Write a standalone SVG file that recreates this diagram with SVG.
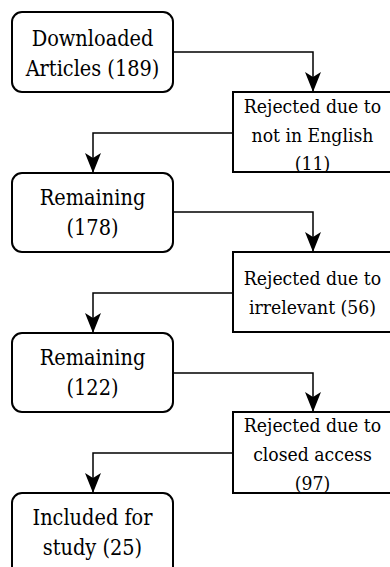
<svg xmlns="http://www.w3.org/2000/svg" width="390" height="567" viewBox="0 0 390 567">
<defs>
<style>
.box{fill:#fff;stroke:#000;stroke-width:2}
.edge{fill:none;stroke:#000;stroke-width:1.5}
.m{font-size:21.5px}
.r{font-size:19.2px}
</style>
<marker id="arr" viewBox="0 0 20 16" refX="19" refY="8" markerWidth="20" markerHeight="16" markerUnits="userSpaceOnUse" orient="auto">
<path d="M0,0 L20,8 L0,16 L5,8 Z" fill="#000"/>
</marker>
</defs>
<rect width="390" height="567" fill="#fff"/>
<g id="connectors">
<path class="edge" d="M173,52 H313 V91" marker-end="url(#arr)"/>
<path class="edge" d="M233,133 H93 V172" marker-end="url(#arr)"/>
<path class="edge" d="M173,212 H313 V251" marker-end="url(#arr)"/>
<path class="edge" d="M233,293 H93 V332" marker-end="url(#arr)"/>
<path class="edge" d="M173,373 H313 V411" marker-end="url(#arr)"/>
<path class="edge" d="M233,453 H93 V492" marker-end="url(#arr)"/>
</g>
<g font-family="DejaVu Serif Condensed, DejaVu Serif, Liberation Serif, serif" text-anchor="middle" fill="#000">
<g id="downloaded">
<rect class="box" x="12" y="12" width="161" height="80" rx="10"/>
<text class="m" x="92.5" y="46">Downloaded</text>
<text class="m" x="92.5" y="76">Articles (189)</text>
</g>
<g id="reject-english">
<rect class="box" x="233" y="92" width="160" height="80"/>
<text class="r" x="312.5" y="113">Rejected due to</text>
<text class="r" x="312.5" y="142">not in English</text>
<text class="r" x="312.5" y="170">(11)</text>
</g>
<g id="remaining-178">
<rect class="box" x="12" y="173" width="161" height="79" rx="10"/>
<text class="m" x="92.5" y="205">Remaining</text>
<text class="m" x="92.5" y="235">(178)</text>
</g>
<g id="reject-irrelevant">
<rect class="box" x="233" y="252" width="160" height="80"/>
<text class="r" x="312.5" y="285">Rejected due to</text>
<text class="r" x="312.5" y="314">irrelevant (56)</text>
</g>
<g id="remaining-122">
<rect class="box" x="12" y="333" width="161" height="79" rx="10"/>
<text class="m" x="92.5" y="365">Remaining</text>
<text class="m" x="92.5" y="395">(122)</text>
</g>
<g id="reject-closed">
<rect class="box" x="233" y="412" width="160" height="81"/>
<text class="r" x="312.5" y="432">Rejected due to</text>
<text class="r" x="312.5" y="461">closed access</text>
<text class="r" x="312.5" y="490">(97)</text>
</g>
<g id="included">
<rect class="box" x="12" y="493" width="161" height="90" rx="10"/>
<text class="m" x="92.5" y="525">Included for</text>
<text class="m" x="92.5" y="555">study (25)</text>
</g>
</g>
</svg>
